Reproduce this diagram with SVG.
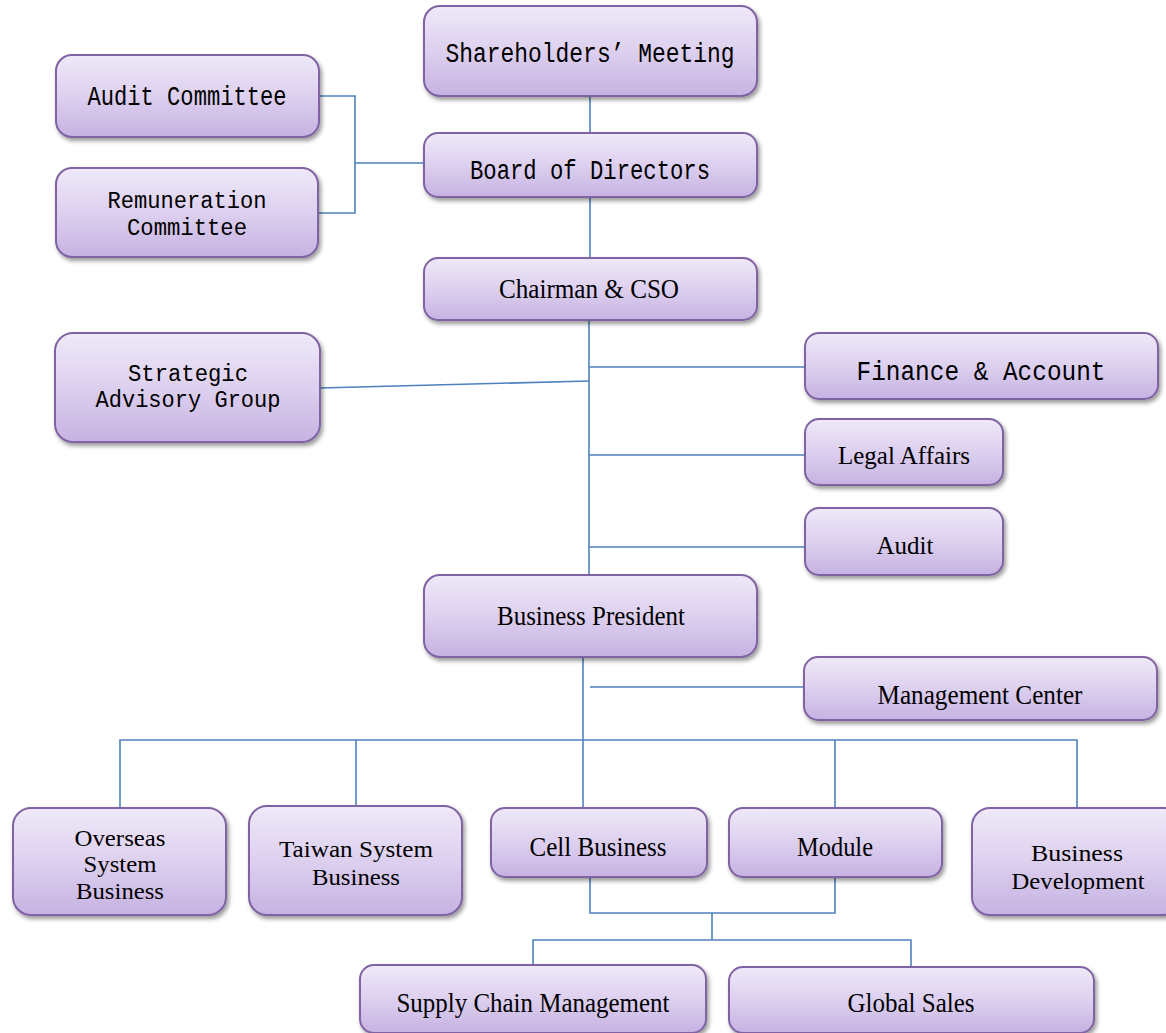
<svg xmlns="http://www.w3.org/2000/svg" width="1166" height="1033" viewBox="0 0 1166 1033">
<defs>
<linearGradient id="g" x1="0" y1="0" x2="0" y2="1">
<stop offset="0" stop-color="#efe9f8"/>
<stop offset="0.5" stop-color="#ddd0ef"/>
<stop offset="1" stop-color="#c6b2e2"/>
</linearGradient>
<filter id="sh" x="-10%" y="-10%" width="130%" height="140%">
<feDropShadow dx="2" dy="3" stdDeviation="2" flood-color="#000" flood-opacity="0.4"/>
</filter>
<style>
.box{fill:url(#g);stroke:#7f63a2;stroke-width:2;filter:url(#sh)}
.m{font-family:"Liberation Mono","DejaVu Sans Mono",monospace;font-size:27px;fill:#000;text-anchor:middle}
.m2{font-family:"Liberation Mono","DejaVu Sans Mono",monospace;font-size:23px;fill:#000;text-anchor:middle}
.s{font-family:"Liberation Serif","Times New Roman",serif;font-size:28px;fill:#000;text-anchor:middle}
.s2{font-family:"Liberation Serif","Times New Roman",serif;font-size:24px;fill:#000;text-anchor:middle}
.t{font-family:"Liberation Serif","Times New Roman",serif;font-size:25px;fill:#000;text-anchor:middle}
.c{fill:none;stroke:#4f81bd;stroke-width:1.6}
</style>
</defs>
<rect width="1166" height="1033" fill="#fff"/>
<g id="connectors">
<path class="c" d="M590,96 V133"/>
<path class="c" d="M590,197 V258"/>
<path class="c" d="M318,96 H355 V213 H318 M355,163 H424"/>
<path class="c" d="M589,320 V575"/>
<path class="c" d="M320,388 L589,381"/>
<path class="c" d="M589,367 H805"/>
<path class="c" d="M589,455 H805"/>
<path class="c" d="M589,547 H805"/>
<path class="c" d="M583,657 V740"/>
<path class="c" d="M590,687 H804"/>
<path class="c" d="M120,808 V740 H1077 V808"/>
<path class="c" d="M356,740 V806"/>
<path class="c" d="M583,740 V808"/>
<path class="c" d="M835,740 V808"/>
<path class="c" d="M590,877 V913 H835 V877"/>
<path class="c" d="M712,913 V940"/>
<path class="c" d="M533,965 V940 H911 V967"/>
</g>
<g id="shareholders"><rect class="box" x="424" y="6" width="333" height="90" rx="16"/><text class="m" x="590" y="62" textLength="289" lengthAdjust="spacingAndGlyphs">Shareholders’ Meeting</text></g>
<g id="board"><rect class="box" x="424" y="133" width="333" height="64" rx="14"/><text class="m" x="590" y="179" textLength="240" lengthAdjust="spacingAndGlyphs">Board of Directors</text></g>
<g id="audit-committee"><rect class="box" x="56" y="55" width="263" height="82" rx="16"/><text class="m" x="187" y="105" textLength="199" lengthAdjust="spacingAndGlyphs">Audit Committee</text></g>
<g id="remuneration"><rect class="box" x="56" y="168" width="262" height="89" rx="16"/><text class="m2" x="187" y="208" textLength="159" lengthAdjust="spacingAndGlyphs">Remuneration</text><text class="m2" x="187" y="235" textLength="120" lengthAdjust="spacingAndGlyphs">Committee</text></g>
<g id="chairman"><rect class="box" x="424" y="258" width="333" height="62" rx="14"/><text class="s" x="589" y="298" textLength="180" lengthAdjust="spacingAndGlyphs">Chairman &amp; CSO</text></g>
<g id="strategic"><rect class="box" x="55" y="333" width="265" height="109" rx="18"/><text class="m2" x="188" y="381" textLength="120" lengthAdjust="spacingAndGlyphs">Strategic</text><text class="m2" x="188" y="407" textLength="185" lengthAdjust="spacingAndGlyphs">Advisory Group</text></g>
<g id="finance"><rect class="box" x="805" y="333" width="353" height="66" rx="14"/><text class="m" x="981" y="380" font-size="29" textLength="249" lengthAdjust="spacingAndGlyphs">Finance &amp; Account</text></g>
<g id="legal"><rect class="box" x="805" y="419" width="198" height="66" rx="14"/><text class="t" x="904" y="464">Legal Affairs</text></g>
<g id="audit"><rect class="box" x="805" y="508" width="198" height="67" rx="14"/><text class="t" x="905" y="554">Audit</text></g>
<g id="business-president"><rect class="box" x="424" y="575" width="333" height="82" rx="16"/><text class="s" x="591" y="625" textLength="188" lengthAdjust="spacingAndGlyphs">Business President</text></g>
<g id="management"><rect class="box" x="804" y="657" width="353" height="63" rx="14"/><text class="s" x="980" y="704" textLength="205" lengthAdjust="spacingAndGlyphs">Management Center</text></g>
<g id="overseas"><rect class="box" x="13" y="808" width="213" height="107" rx="18"/><text class="s2" x="120" y="846" textLength="91" lengthAdjust="spacingAndGlyphs">Overseas</text><text class="s2" x="120" y="872" textLength="73" lengthAdjust="spacingAndGlyphs">System</text><text class="s2" x="120" y="899" textLength="88" lengthAdjust="spacingAndGlyphs">Business</text></g>
<g id="taiwan"><rect class="box" x="249" y="806" width="213" height="109" rx="18"/><text class="s2" x="356" y="857" textLength="154" lengthAdjust="spacingAndGlyphs">Taiwan System</text><text class="s2" x="356" y="885" textLength="88" lengthAdjust="spacingAndGlyphs">Business</text></g>
<g id="cell"><rect class="box" x="491" y="808" width="216" height="69" rx="14"/><text class="s" x="598" y="856" textLength="137" lengthAdjust="spacingAndGlyphs">Cell Business</text></g>
<g id="module"><rect class="box" x="729" y="808" width="213" height="69" rx="14"/><text class="s" x="835" y="856" textLength="76" lengthAdjust="spacingAndGlyphs">Module</text></g>
<g id="business-development"><rect class="box" x="972" y="808" width="210" height="107" rx="18"/><text class="s2" x="1077" y="861" textLength="92" lengthAdjust="spacingAndGlyphs">Business</text><text class="s2" x="1078" y="889" textLength="133" lengthAdjust="spacingAndGlyphs">Development</text></g>
<g id="supply-chain"><rect class="box" x="360" y="965" width="346" height="68" rx="14"/><text class="s" x="533" y="1012" textLength="273" lengthAdjust="spacingAndGlyphs">Supply Chain Management</text></g>
<g id="global-sales"><rect class="box" x="729" y="967" width="365" height="66" rx="14"/><text class="s" x="911" y="1012" textLength="127" lengthAdjust="spacingAndGlyphs">Global Sales</text></g>
</svg>
